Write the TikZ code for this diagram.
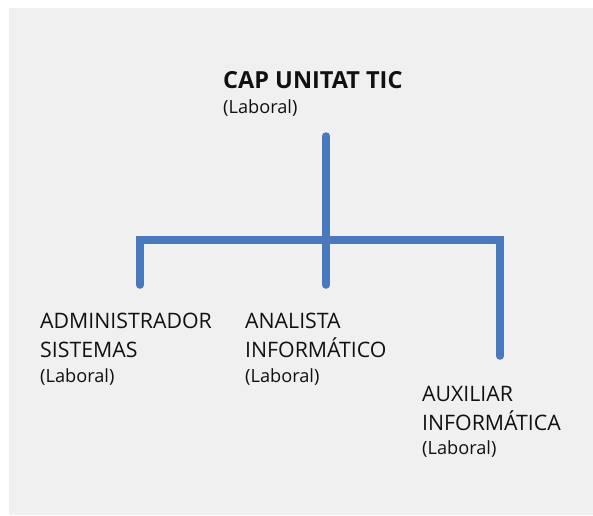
\documentclass[tikz,border=0pt]{standalone}
\usepackage{fontspec}
\setmainfont{Open Sans}
\definecolor{bgc}{HTML}{F0F0F0}
\definecolor{linec}{HTML}{4A78BD}
\definecolor{txt}{HTML}{111111}
\begin{document}
\begin{tikzpicture}[x=1pt,y=-1pt,
  conn/.style={draw=linec,line width=7.5pt,line cap=round,line join=miter},
  big/.style={anchor=base west,inner sep=0pt,text=txt,font=\fontsize{21.3}{25}\selectfont},
  title/.style={anchor=base west,inner sep=0pt,text=txt,font=\bfseries\fontsize{23.5}{27}\selectfont},
  small/.style={anchor=base west,inner sep=0pt,text=txt,font=\fontsize{18.2}{21}\selectfont}]
\useasboundingbox (0,0) rectangle (593,515);
\fill[white] (0,0) rectangle (593,515);
\fill[bgc] (9,8) rectangle (593,515);
% texts
\node[title] (cap) at (223,88) {CAP UNITAT TIC};
\node[small] (capsub) at (223,113) {(Laboral)};
\node[big] (adm1) at (40,328) {ADMINISTRADOR};
\node[big] (adm2) at (40,357) {SISTEMAS};
\node[small] (admsub) at (40,382) {(Laboral)};
\node[big] (ana1) at (245,328) {ANALISTA};
\node[big] (ana2) at (245,357) {INFORMÁTICO};
\node[small] (anasub) at (245,382) {(Laboral)};
\node[big] (aux1) at (422,401) {AUXILIAR};
\node[big] (aux2) at (422,430) {INFORMÁTICA};
\node[small] (auxsub) at (422,454) {(Laboral)};
% connectors
\coordinate (top) at (326,136);
\coordinate (mid) at (326,240);
\coordinate (lc) at (140,240);
\coordinate (rc) at (500,240);
\coordinate (lend) at (140,285);
\coordinate (mend) at (326,285);
\coordinate (rend) at (500,356);
\draw[conn] (top) -- (mend);
\draw[conn] (lend) -- (lc) -- (rc) -- (rend);
\end{tikzpicture}
\end{document}
